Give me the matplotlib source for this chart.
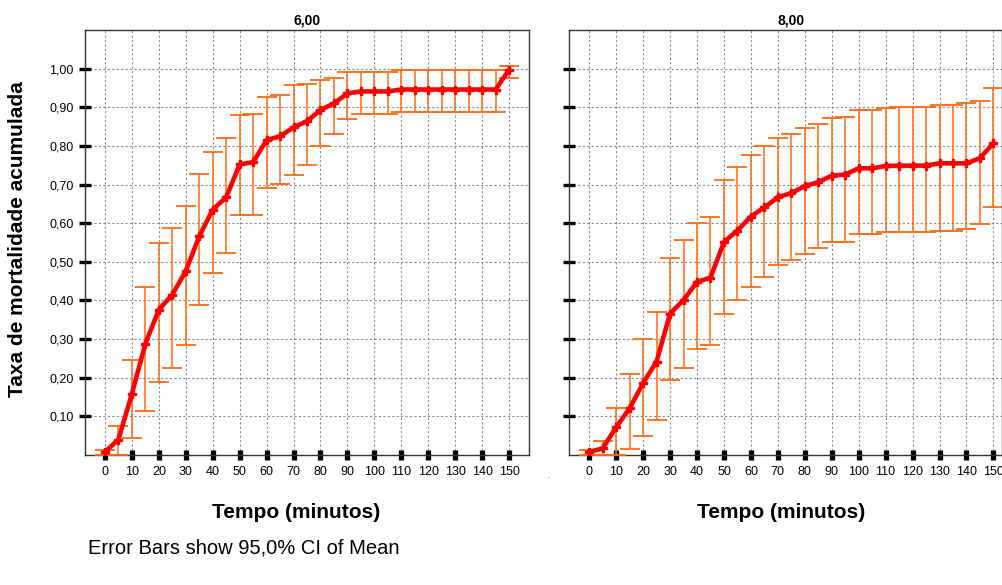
import numpy as np
import matplotlib
matplotlib.use('Agg')
import matplotlib.pyplot as plt
from matplotlib.lines import Line2D

plt.rcParams['font.family'] = ['Liberation Sans', 'DejaVu Sans']

# tempo (minutos)
tempo = [0, 5, 10, 15, 20, 25, 30, 35, 40, 45, 50, 55, 60, 65, 70, 75,
         80, 85, 90, 95, 100, 105, 110, 115, 120, 125, 130, 135, 140, 145, 150]

# grupo 6,00
media_6 = [0.008, 0.04, 0.158, 0.288, 0.376, 0.415, 0.476, 0.566, 0.635, 0.667, 0.752,
           0.758, 0.815, 0.825, 0.848, 0.864, 0.893, 0.91, 0.936, 0.941, 0.941, 0.941,
           0.946, 0.946, 0.946, 0.946, 0.946, 0.946, 0.946, 0.946, 0.997]
inf_6 = [0.0, 0.0, 0.045, 0.115, 0.19, 0.226, 0.286, 0.387, 0.472, 0.523, 0.62,
         0.622, 0.692, 0.701, 0.726, 0.751, 0.801, 0.832, 0.870, 0.882, 0.882, 0.882,
         0.887, 0.887, 0.887, 0.887, 0.887, 0.887, 0.887, 0.887, 0.977]
sup_6 = [0.012, 0.075, 0.247, 0.436, 0.548, 0.587, 0.645, 0.728, 0.785, 0.82, 0.879,
         0.882, 0.927, 0.931, 0.957, 0.961, 0.970, 0.977, 0.992, 0.992, 0.992, 0.992,
         0.996, 0.996, 0.996, 0.996, 0.996, 0.996, 0.996, 0.996, 1.007]

# grupo 8,00
media_8 = [0.008, 0.017, 0.072, 0.121, 0.186, 0.242, 0.366, 0.401, 0.448, 0.459, 0.551,
           0.581, 0.617, 0.641, 0.667, 0.678, 0.696, 0.706, 0.723, 0.726, 0.742, 0.742,
           0.748, 0.749, 0.749, 0.749, 0.755, 0.755, 0.755, 0.768, 0.807]
inf_8 = [0.0, 0.0, 0.0, 0.015, 0.05, 0.091, 0.195, 0.226, 0.275, 0.286, 0.365,
         0.402, 0.435, 0.461, 0.491, 0.506, 0.521, 0.536, 0.551, 0.551, 0.571, 0.571,
         0.576, 0.576, 0.576, 0.576, 0.581, 0.581, 0.585, 0.597, 0.641]
sup_8 = [0.012, 0.035, 0.121, 0.21, 0.30, 0.369, 0.51, 0.556, 0.60, 0.617, 0.712,
         0.745, 0.776, 0.80, 0.821, 0.831, 0.847, 0.856, 0.871, 0.876, 0.892, 0.892,
         0.898, 0.901, 0.901, 0.901, 0.907, 0.907, 0.912, 0.917, 0.951]

x_ticks = [0, 10, 20, 30, 40, 50, 60, 70, 80, 90, 100, 110, 120, 130, 140, 150]
y_ticks = [0.10, 0.20, 0.30, 0.40, 0.50, 0.60, 0.70, 0.80, 0.90, 1.00]

W, H = 1002, 585
fig = plt.figure(figsize=(W / 100, H / 100), dpi=100)


def caixa(l, t, r, b):
    return [l / W, 1 - b / H, (r - l) / W, (b - t) / H]


ax1 = fig.add_axes(caixa(85, 30, 529.3, 455))
ax2 = fig.add_axes(caixa(569.3, 30, 1013.6, 455))

grupos = [(ax1, '6,00', media_6, inf_6, sup_6),
          (ax2, '8,00', media_8, inf_8, sup_8)]

for ax, titulo, media, inf, sup in grupos:
    m = np.array(media)
    erro = [m - np.array(inf), np.array(sup) - m]
    ax.errorbar(tempo, m, yerr=erro, fmt='none', ecolor='#ff6a10',
                elinewidth=1.1, capsize=7, capthick=1.3, zorder=3)
    ax.plot(tempo, m, color='#ff0000', lw=3.3, marker='P', ms=6,
            mec='#ff0000', mfc='#ff0000', zorder=4)
    ax.set_xlim(-7.4, 157.5)
    ax.set_ylim(0, 1.1)
    ax.set_xticks(x_ticks)
    ax.set_xticklabels([str(t) for t in x_ticks])
    ax.set_yticks(y_ticks)
    ax.set_yticklabels([f'{v:.2f}'.replace('.', ',') for v in y_ticks])
    ax.grid(True, ls=(0, (2, 2)), color='#8a8a8a', lw=0.8, zorder=0)
    ax.tick_params(axis='y', direction='inout', length=8, width=2.4,
                   labelsize=9, pad=4)
    ax.tick_params(axis='x', direction='inout', length=6.5, width=3.8,
                   labelsize=9, pad=5)
    for s in ax.spines.values():
        s.set_color('#333333')
        s.set_linewidth(1)
    ax.set_title(titulo, fontsize=10, fontweight='bold', pad=4)

ax2.tick_params(axis='y', labelleft=False)

# borda direita visivel
fig.add_artist(Line2D([1001.5 / W, 1001.5 / W], [1 - 30 / H, 1 - 455 / H],
                      color='#333333', lw=1))

fig.text(296 / W, 1 - 513 / H, 'Tempo (minutos)', ha='center', va='center',
         fontsize=15, fontweight='bold')
fig.text(781 / W, 1 - 513 / H, 'Tempo (minutos)', ha='center', va='center',
         fontsize=15, fontweight='bold')
fig.text(18 / W, 1 - 239 / H, 'Taxa de mortalidade acumulada', rotation=90,
         ha='center', va='center', fontsize=15, fontweight='bold')
fig.text(549 / W, 1 - 475 / H, '.', color='#ff6a10', ha='center', va='center',
         fontsize=9)
fig.text(88 / W, 1 - 548 / H, 'Error Bars show 95,0% CI of Mean', ha='left',
         va='center', fontsize=14.5)

fig.savefig('out.png', dpi=100)
